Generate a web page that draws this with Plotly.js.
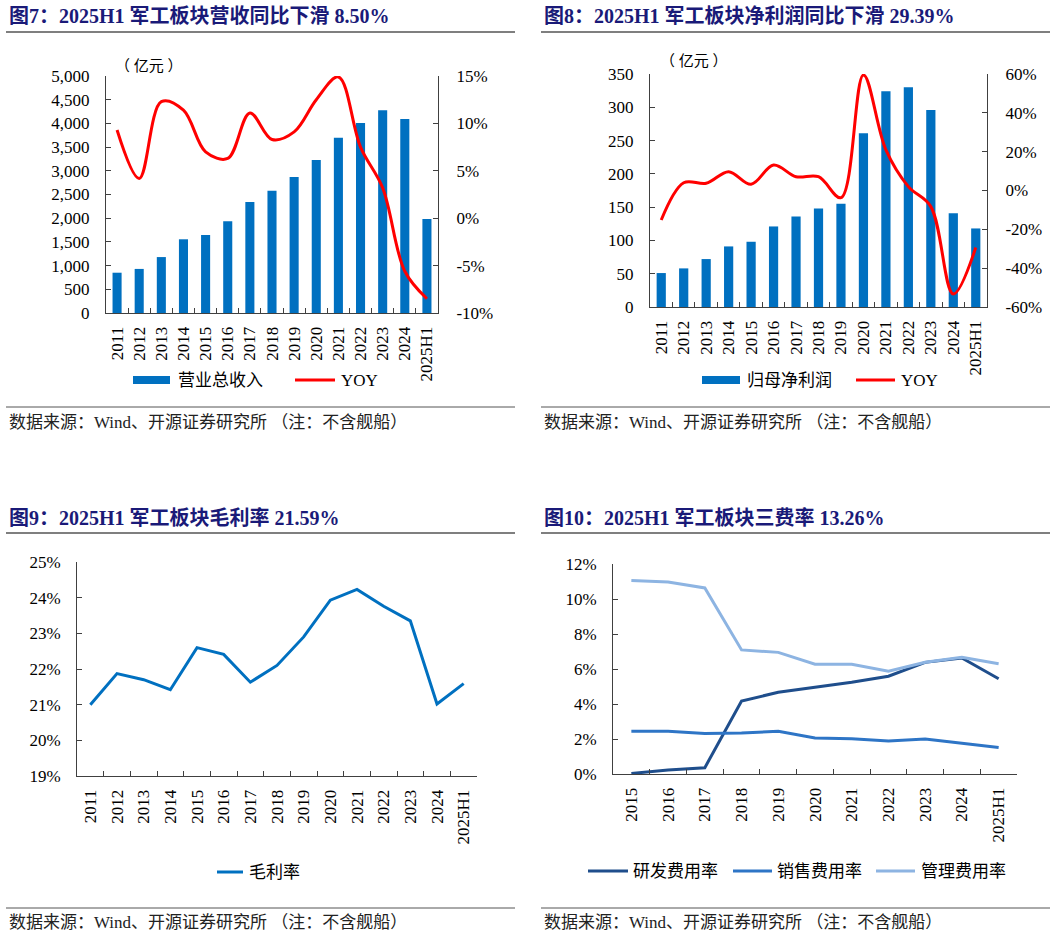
<!DOCTYPE html>
<html>
<head>
<meta charset="utf-8">
<script src="https://cdn.plot.ly/plotly-3.0.1.min.js"></script>
<style>
  html, body { margin: 0; padding: 0; background: #ffffff; }
  #chart { width: 1057px; height: 938px; }
</style>
</head>
<body>
<div id="chart"></div>
<script>
// ---- data ----
const years = ['2011', '2012', '2013', '2014', '2015', '2016', '2017', '2018', '2019', '2020', '2021', '2022', '2023', '2024', '2025H1'];
const feeYears = ['2015', '2016', '2017', '2018', '2019', '2020', '2021', '2022', '2023', '2024', '2025H1'];

// 营业总收入 (亿元) and YOY (%)
const revenue = [850, 930, 1180, 1555, 1646, 1934, 2342, 2581, 2869, 3228, 3699, 4008, 4276, 4093, 1983];
const revenueYoy = [9.3, 4.2, 12.3, 11.4, 7.0, 6.3, 11.1, 8.3, 9.1, 12.5, 14.9, 7.5, 3.2, -5.6, -8.50];

// 归母净利润 (亿元) and YOY (%)
const netProfit = [51, 58, 72, 91, 98, 121, 136, 148, 155, 261, 324, 330, 296, 141, 118];
const profitYoy = [-15.2, 4.0, 3.7, 9.7, 3.2, 13.1, 7.1, 7.1, -3.7, 59.5, 20.9, 2.0, -8.3, -53.3, -29.39];

// 毛利率 (%)
const grossMargin = [21.00, 21.87, 21.70, 21.42, 22.60, 22.41, 21.63, 22.10, 22.90, 23.93, 24.23, 23.76, 23.35, 21.02, 21.59];

// 费用率 (%)
const rdRate = [0.03, 0.23, 0.36, 4.17, 4.67, 4.95, 5.24, 5.59, 6.38, 6.63, 5.44];
const salesRate = [2.44, 2.44, 2.32, 2.34, 2.44, 2.06, 2.02, 1.89, 2.00, 1.75, 1.52];
const adminRate = [11.05, 10.97, 10.63, 7.09, 6.95, 6.27, 6.27, 5.87, 6.38, 6.67, 6.30];

// tick labels
const revTicks = [0, 500, 1000, 1500, 2000, 2500, 3000, 3500, 4000, 4500, 5000];
const revYoyTicks = [-10, -5, 0, 5, 10, 15];
const profitTicks = [0, 50, 100, 150, 200, 250, 300, 350];
const profitYoyTicks = [-60, -40, -20, 0, 20, 40, 60];
const marginTicks = [19, 20, 21, 22, 23, 24, 25];
const feeTicks = [0, 2, 4, 6, 8, 10, 12];

// ---- styling ----
const W = 1057, H = 938;
const px = x => x / W;
const py = y => 1 - y / H;

const NUM_FONT = 'Liberation Serif, Times New Roman, serif';
const CJK_FONT = 'Liberation Serif, Noto Sans CJK SC, serif';
const BAR_BLUE = '#0070C0';
const RED = '#FF0000';
const RD_COLOR = '#1F4E8C';
const SALES_COLOR = '#2E75C6';
const ADMIN_COLOR = '#8DB4E2';
const TITLE_COLOR = '#1A1A78';
const AXIS_COLOR = '#404040';

const fmtThousands = v => v.toLocaleString('en-US');
const fmtPct = v => (v < 0 ? '-' + Math.abs(v) : String(v)) + '%';

function xAxis(domain, cats) {
  return {
    domain: domain, type: 'category', categoryarray: cats,
    range: [-0.5, cats.length - 0.5],
    tickson: 'boundaries', ticks: 'inside', ticklen: 5, tickcolor: AXIS_COLOR,
    showline: true, linecolor: AXIS_COLOR, linewidth: 1,
    showgrid: false, zeroline: false, tickangle: -90,
    ticklabelstandoff: 6,
    tickfont: { family: NUM_FONT, size: 17, color: '#000' },
    fixedrange: true
  };
}
function yAxis(domain, range, vals, fmt, extra) {
  return Object.assign({
    domain: domain, range: range,
    tickmode: 'array', tickvals: vals, ticktext: vals.map(fmt),
    ticks: 'inside', ticklen: 5, tickcolor: AXIS_COLOR,
    showline: true, linecolor: AXIS_COLOR, linewidth: 1,
    showgrid: false, zeroline: false,
    ticklabelstandoff: 12,
    tickfont: { family: NUM_FONT, size: 17, color: '#000' },
    fixedrange: true
  }, extra || {});
}

const traces = [
  // panel 1
  { type: 'bar', x: years, y: revenue, xaxis: 'x', yaxis: 'y', marker: { color: BAR_BLUE }, name: '营业总收入' },
  { type: 'scatter', mode: 'lines', x: years, y: revenueYoy, xaxis: 'x', yaxis: 'y2',
    line: { color: RED, width: 3, shape: 'spline', smoothing: 1 }, name: 'YOY' },
  // panel 2
  { type: 'bar', x: years, y: netProfit, xaxis: 'x2', yaxis: 'y3', marker: { color: BAR_BLUE }, name: '归母净利润' },
  { type: 'scatter', mode: 'lines', x: years, y: profitYoy, xaxis: 'x2', yaxis: 'y4',
    line: { color: RED, width: 3, shape: 'spline', smoothing: 1 }, name: 'YOY' },
  // panel 3
  { type: 'scatter', mode: 'lines', x: years, y: grossMargin, xaxis: 'x3', yaxis: 'y5',
    line: { color: BAR_BLUE, width: 3 }, name: '毛利率' },
  // panel 4
  { type: 'scatter', mode: 'lines', x: feeYears, y: rdRate, xaxis: 'x4', yaxis: 'y6',
    line: { color: RD_COLOR, width: 3 }, name: '研发费用率' },
  { type: 'scatter', mode: 'lines', x: feeYears, y: salesRate, xaxis: 'x4', yaxis: 'y6',
    line: { color: SALES_COLOR, width: 3 }, name: '销售费用率' },
  { type: 'scatter', mode: 'lines', x: feeYears, y: adminRate, xaxis: 'x4', yaxis: 'y6',
    line: { color: ADMIN_COLOR, width: 3 }, name: '管理费用率' }
];

const shapes = [];
const annotations = [];

function hRule(x0, x1, y, color, width) {
  shapes.push({ type: 'line', xref: 'paper', yref: 'paper', x0: px(x0), x1: px(x1), y0: py(y), y1: py(y),
    line: { color: color, width: width } });
}
function text(t, x, y, font, anchor) {
  annotations.push({ text: t, xref: 'paper', yref: 'paper', x: px(x), y: py(y),
    xanchor: anchor || 'left', yanchor: 'middle', showarrow: false, font: font });
}
function barSwatch(x0, x1, y) {
  shapes.push({ type: 'rect', xref: 'paper', yref: 'paper', x0: px(x0), x1: px(x1), y0: py(y + 4), y1: py(y - 4),
    fillcolor: BAR_BLUE, line: { width: 0 } });
}
function lineSwatch(x0, x1, y, color) {
  shapes.push({ type: 'line', xref: 'paper', yref: 'paper', x0: px(x0), x1: px(x1), y0: py(y), y1: py(y),
    line: { color: color, width: 3 } });
}

const titleFont = { family: CJK_FONT, size: 20, color: TITLE_COLOR };
const legendFont = { family: CJK_FONT, size: 17, color: '#000' };
const sourceFont = { family: CJK_FONT, size: 17, color: '#222' };
const SOURCE = '数据来源：Wind、开源证券研究所 （注：不含舰船）';

// titles and rules
text('<b>图7：2025H1 军工板块营收同比下滑 8.50%</b>', 7, 16, titleFont);
text('<b>图8：2025H1 军工板块净利润同比下滑 29.39%</b>', 542, 16, titleFont);
text('<b>图9：2025H1 军工板块毛利率 21.59%</b>', 7, 518, titleFont);
text('<b>图10：2025H1 军工板块三费率 13.26%</b>', 542, 518, titleFont);
hRule(6, 515, 32, '#555', 1.5);
hRule(541, 1050, 32, '#555', 1.5);
hRule(6, 515, 533, '#555', 1.5);
hRule(541, 1050, 533, '#555', 1.5);
hRule(6, 515, 407, '#555', 1);
hRule(541, 1050, 407, '#555', 1);
hRule(6, 515, 908, '#555', 1);
hRule(541, 1050, 908, '#555', 1);
text(SOURCE, 7, 422, sourceFont);
text(SOURCE, 542, 422, sourceFont);
text(SOURCE, 7, 922, sourceFont);
text(SOURCE, 542, 922, sourceFont);

// unit labels
text('（ 亿元 ）', 113, 66, { family: CJK_FONT, size: 15, color: '#000' });
text('（ 亿元 ）', 658, 61, { family: CJK_FONT, size: 15, color: '#000' });

// legends
barSwatch(133, 170, 380);
text('营业总收入', 176, 380, legendFont);
lineSwatch(295, 335, 380, RED);
text('YOY', 339, 380, legendFont);

barSwatch(702, 740, 380);
text('归母净利润', 745, 380, legendFont);
lineSwatch(856, 895, 380, RED);
text('YOY', 899, 380, legendFont);

lineSwatch(217, 243, 872, BAR_BLUE);
text('毛利率', 247, 872, legendFont);

lineSwatch(588, 628, 871, RD_COLOR);
text('研发费用率', 631, 871, legendFont);
lineSwatch(733, 772, 871, SALES_COLOR);
text('销售费用率', 775, 871, legendFont);
lineSwatch(876, 915, 871, ADMIN_COLOR);
text('管理费用率', 919, 871, legendFont);

const layout = {
  width: W, height: H,
  margin: { l: 0, r: 0, t: 0, b: 0 },
  paper_bgcolor: '#ffffff', plot_bgcolor: 'rgba(0,0,0,0)',
  showlegend: false,
  bargap: 0.59,
  font: { family: NUM_FONT, size: 16, color: '#000' },

  xaxis: Object.assign(xAxis([px(106), px(438)], years), { anchor: 'y' }),
  yaxis: yAxis([py(313), py(76)], [0, 5000], revTicks, fmtThousands, { anchor: 'x' }),
  yaxis2: yAxis([py(313), py(76)], [-10, 15], revYoyTicks, fmtPct, { anchor: 'x', overlaying: 'y', side: 'right', ticklabelstandoff: 14 }),

  xaxis2: Object.assign(xAxis([px(650), px(987)], years), { anchor: 'y3' }),
  yaxis3: yAxis([py(307), py(74)], [0, 350], profitTicks, String, { anchor: 'x2' }),
  yaxis4: yAxis([py(307), py(74)], [-60, 60], profitYoyTicks, fmtPct, { anchor: 'x2', overlaying: 'y3', side: 'right', ticklabelstandoff: 14 }),

  xaxis3: Object.assign(xAxis([px(77), px(477)], years), { anchor: 'y5' }),
  yaxis5: yAxis([py(776), py(562)], [19, 25], marginTicks, fmtPct, { anchor: 'x3' }),

  xaxis4: Object.assign(xAxis([px(613), px(1017)], feeYears), { anchor: 'y6' }),
  yaxis6: yAxis([py(774), py(564)], [0, 12], feeTicks, fmtPct, { anchor: 'x4' }),

  shapes: shapes,
  annotations: annotations
};

Plotly.newPlot('chart', traces, layout, { staticPlot: true, displayModeBar: false });
</script>
</body>
</html>
